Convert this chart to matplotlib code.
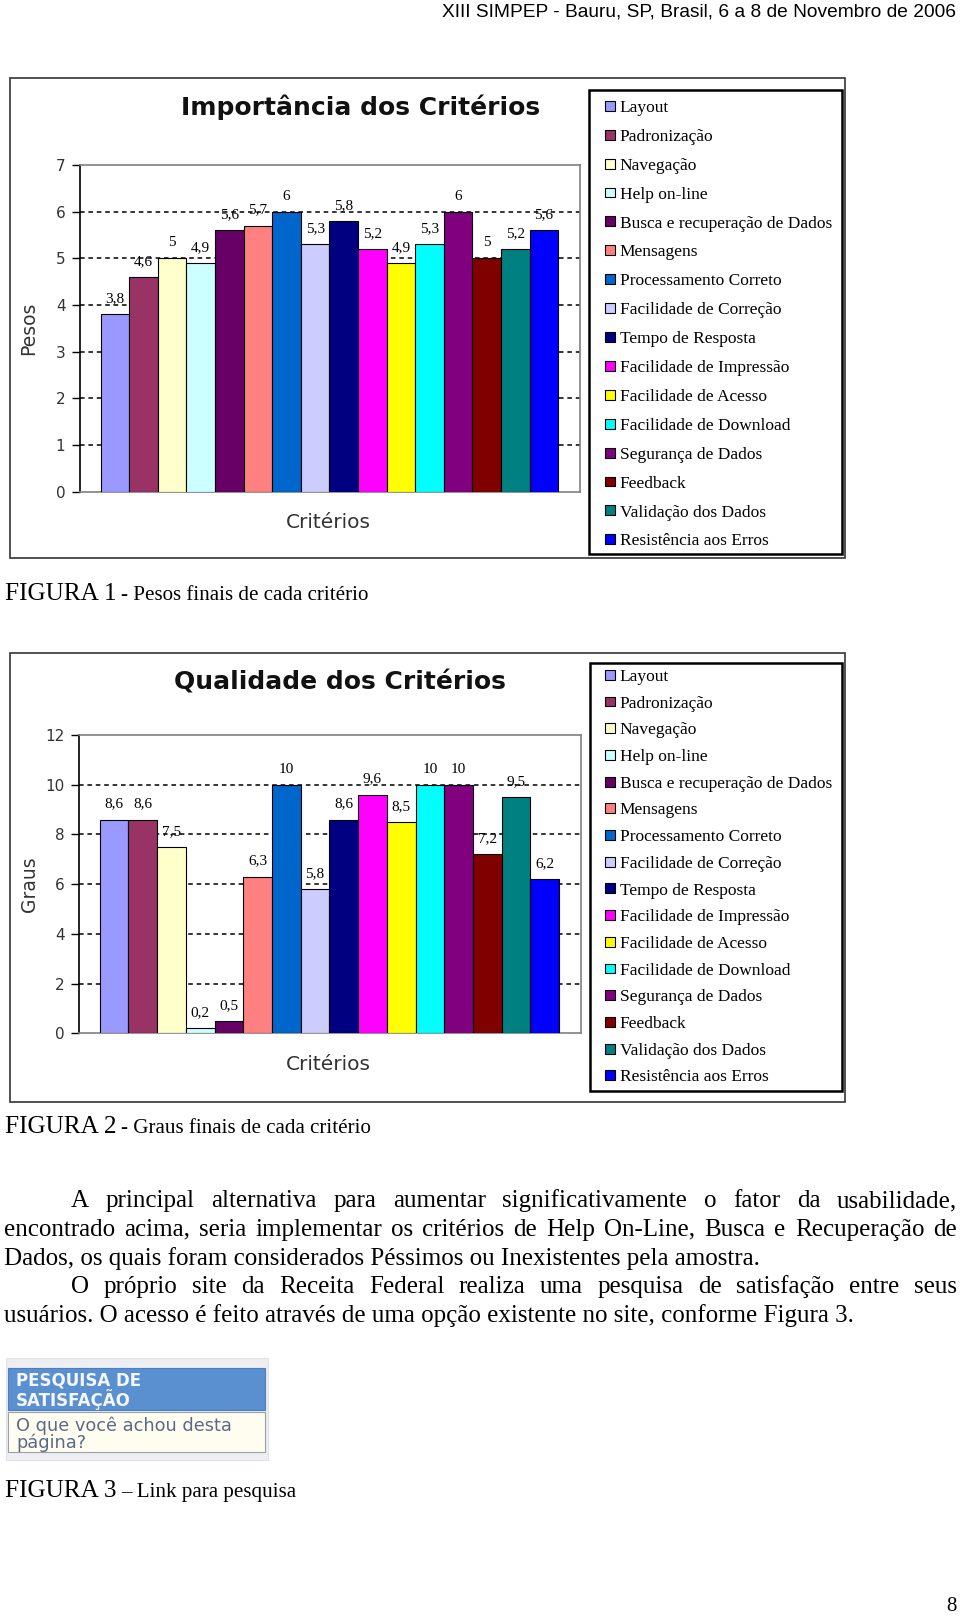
import numpy as np
import matplotlib
matplotlib.use("Agg")
import matplotlib.pyplot as plt
from matplotlib.patches import Rectangle

W, H = 960, 1617

criterios = ["Layout", "Padronização", "Navegação", "Help on-line",
             "Busca e recuperação de Dados", "Mensagens", "Processamento Correto",
             "Facilidade de Correção", "Tempo de Resposta", "Facilidade de Impressão",
             "Facilidade de Acesso", "Facilidade de Download", "Segurança de Dados",
             "Feedback", "Validação dos Dados", "Resistência aos Erros"]
cores = ["#9999ff", "#993366", "#ffffcc", "#ccffff", "#660066", "#ff8080",
         "#0066cc", "#ccccff", "#000080", "#ff00ff", "#ffff00", "#00ffff",
         "#800080", "#800000", "#008080", "#0000ff"]
pesos = [3.8, 4.6, 5, 4.9, 5.6, 5.7, 6, 5.3, 5.8, 5.2, 4.9, 5.3, 6, 5, 5.2, 5.6]
graus = [8.6, 8.6, 7.5, 0.2, 0.5, 6.3, 10, 5.8, 8.6, 9.6, 8.5, 10, 10, 7.2, 9.5, 6.2]

cabecalho = "XIII SIMPEP - Bauru, SP, Brasil, 6 a 8 de Novembro de 2006"
paragrafo = [
    ("A principal alternativa para aumentar significativamente o fator da usabilidade,", True, True),
    ("encontrado acima, seria implementar os critérios de Help On-Line, Busca e Recuperação de", False, True),
    ("Dados, os quais foram considerados Péssimos ou Inexistentes pela amostra.", False, False),
    ("O próprio site da Receita Federal realiza uma pesquisa de satisfação entre seus", True, True),
    ("usuários. O acesso é feito através de uma opção existente no site, conforme Figura 3.", False, False),
]

plt.rcParams['font.family'] = 'DejaVu Sans'
fig = plt.figure(figsize=(W / 100, H / 100), dpi=100)
fig.patch.set_facecolor('white')


def px(x, y):
    return x / W, 1 - y / H


def caixa(x0, y0, x1, y1, **kw):
    fig.add_artist(Rectangle(px(x0, y1), (x1 - x0) / W, (y1 - y0) / H,
                             transform=fig.transFigure, **kw))


def grafico(area, valores, ymax, passo, titulo, tx, ylabel, moldura, leg_box, leg_top, leg_sp, leg_size):
    # moldura externa e caixa da legenda (atras dos eixos)
    caixa(*moldura, facecolor='none', edgecolor='#333333', linewidth=1.2, zorder=-2)
    caixa(*leg_box, facecolor='none', edgecolor='black', linewidth=1.8, zorder=-2)

    x0, y0, x1, y1 = area
    ax = fig.add_axes([x0 / W, 1 - y1 / H, (x1 - x0) / W, (y1 - y0) / H])
    pos = np.arange(len(valores))
    barras = ax.bar(pos, valores, width=1.0, color=cores, edgecolor='black',
                    linewidth=0.8, zorder=3)
    ax.bar_label(barras, labels=[f'{v:g}'.replace('.', ',') for v in valores],
                 padding=6.5, fontsize=11, family='Liberation Serif', zorder=4)
    ax.set_xlim(-1.22, 16.26)
    ax.set_ylim(0, ymax)
    niveis = np.arange(0, ymax + 1, passo)
    ax.set_yticks(niveis)
    ax.set_xticks([])
    for v in niveis[1:-1]:
        ax.axhline(v, color='black', linewidth=1.1, linestyle=(0, (3, 2.5)), zorder=1)
    for lado in ['top', 'right', 'bottom']:
        ax.spines[lado].set_color('#808080')
        ax.spines[lado].set_linewidth(1.2)
    ax.spines['left'].set_color('black')
    ax.spines['left'].set_linewidth(1.2)
    ax.tick_params(axis='y', direction='out', length=6, width=1, pad=4.5,
                   labelsize=11, labelcolor='#333333')

    fig.text(*px(tx, moldura[1] + 29), titulo, ha='center', va='center',
             fontsize=18, fontweight='bold', color='#111111')
    fig.text(*px(29, (y0 + y1) / 2), ylabel, rotation=90, ha='center', va='center',
             fontsize=13.5, color='#333333')
    fig.text(*px(328, y1 + 31), "Critérios", ha='center', va='center',
             fontsize=14.5, color='#333333')

    ax.legend(list(barras), criterios, loc='upper left',
              bbox_to_anchor=px(605, leg_top), bbox_transform=fig.transFigure,
              frameon=False, prop={'family': 'Liberation Serif', 'size': leg_size},
              handlelength=0.55, handleheight=0.5, handletextpad=0.3,
              labelspacing=leg_sp, borderpad=0, borderaxespad=0)
    return ax


grafico((80, 165, 580, 491.7), pesos, 7, 1, "Importância dos Critérios", 361, "Pesos",
        (10, 78, 845, 558), (589, 90, 842, 554), 100, 0.743, 12.5)
grafico((79, 735, 581, 1033.3), graus, 12, 2, "Qualidade dos Critérios", 340, "Graus",
        (10, 653, 845, 1102), (590, 663, 842, 1091), 669, 0.616, 12.5)

# cabecalho e legendas das figuras
fig.text(*px(956, 16.5), cabecalho, ha='right', va='baseline', fontsize=13.75,
         family='Liberation Sans')


def legenda_figura(y, num, resto):
    fig.text(*px(5, y), f"FIGURA {num}", ha='left', va='baseline', fontsize=18.2,
             family='Liberation Serif')
    fig.text(*px(121, y), resto, ha='left', va='baseline', fontsize=15.1,
             family='Liberation Serif')


legenda_figura(599.5, 1, "- Pesos finais de cada critério")
legenda_figura(1132.6, 2, "- Graus finais de cada critério")
legenda_figura(1496.7, 3, "– Link para pesquisa")

# paragrafo justificado
tam = 18
renderer = fig.canvas.get_renderer()
y = 1207
for texto, recuo, justificar in paragrafo:
    xa = 71 if recuo else 4
    if not justificar:
        fig.text(*px(xa, y), texto, ha='left', va='baseline', fontsize=tam,
                 family='Liberation Serif')
    else:
        palavras = texto.split()
        objs = [fig.text(0, 0, p, ha='left', va='baseline', fontsize=tam,
                         family='Liberation Serif') for p in palavras]
        larg = [o.get_window_extent(renderer).width for o in objs]
        gap = (957 - xa - sum(larg)) / (len(palavras) - 1)
        xp = xa
        for o, w in zip(objs, larg):
            o.set_position(px(xp, y))
            xp += w + gap
    y += 28.8

# figura 3: link da pesquisa
caixa(6, 1358, 268, 1460, facecolor='#eceef2', edgecolor='#e0e2e6', linewidth=0.8)
caixa(8, 1368, 265, 1410, facecolor='#5a8fd0', edgecolor='#4a7fc0', linewidth=0.8)
caixa(8, 1412, 265, 1452, facecolor='#fffdf0', edgecolor='#9aa0a8', linewidth=0.8)
fig.text(*px(16, 1386), "PESQUISA DE", ha='left', va='baseline', fontsize=12,
         fontweight='bold', color='#f4f7ff')
fig.text(*px(16, 1406), "SATISFAÇÃO", ha='left', va='baseline', fontsize=12,
         fontweight='bold', color='#f4f7ff')
fig.text(*px(16, 1431), "O que você achou desta", ha='left', va='baseline', fontsize=12.8,
         color='#5a6a88')
fig.text(*px(16, 1448), "página?", ha='left', va='baseline', fontsize=12.8,
         color='#5a6a88')

fig.text(*px(951, 1611), "8", ha='center', va='baseline', fontsize=15,
         family='Liberation Serif')

fig.savefig("out.png", dpi=100)
